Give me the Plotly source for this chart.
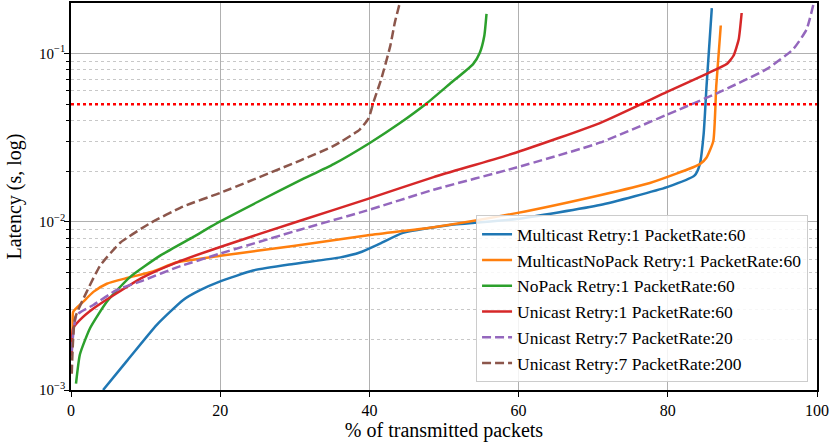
import plotly.graph_objects as go

# % of transmitted packets vs latency (s)
blue_x = [4.3, 7.5, 11.5, 15.0, 17.3, 20, 24.4, 29.8, 36.1, 38.7, 41.4, 44.5, 50.8, 59.7, 70.9, 79.9, 83.6, 84.3, 84.8, 85.2, 85.9]
blue_y = [0.00100, 0.00149, 0.00244, 0.00342, 0.00392, 0.00442, 0.00513, 0.00561, 0.00614, 0.00656, 0.00741, 0.00859, 0.00957, 0.01038, 0.01257, 0.01607, 0.01885, 0.0220, 0.0330, 0.0647, 0.186]

orange_x = [0.1, 0.22, 0.3, 1.65, 3.0, 4.8, 7.5, 11.0, 14.2, 20, 29.8, 39.6, 48.6, 59.7, 70.9, 77.6, 84.3, 85.2, 86.1, 86.5, 87.1]
orange_y = [0.0018, 0.00233, 0.00292, 0.00335, 0.00383, 0.00428, 0.00463, 0.00506, 0.00574, 0.00627, 0.00718, 0.00828, 0.00927, 0.01125, 0.01438, 0.0170, 0.0220, 0.0241, 0.0302, 0.0647, 0.1466]

green_x = [0.67, 1.2, 2.55, 4.8, 7.9, 11.9, 16.4, 20, 25, 30.7, 35.2, 40.1, 44.1, 47.7, 50.8, 53.9, 54.8, 55.4, 55.7]
green_y = [0.00109, 0.00163, 0.00233, 0.00335, 0.00469, 0.00627, 0.00813, 0.01004, 0.0131, 0.0176, 0.0220, 0.0295, 0.0386, 0.0506, 0.0661, 0.0865, 0.101, 0.127, 0.172]

red_x = [0.1, 0.3, 1.2, 3.0, 5.7, 9.7, 14.2, 20, 30.7, 39.6, 48.6, 59.7, 70.9, 79.9, 85.2, 87.9, 88.8, 89.5, 89.9]
red_y = [0.0016, 0.00233, 0.00261, 0.00305, 0.00366, 0.00469, 0.00574, 0.00708, 0.01014, 0.01358, 0.0184, 0.0258, 0.0386, 0.0591, 0.0757, 0.0865, 0.0969, 0.121, 0.174]

purple_x = [0.1, 0.76, 3.0, 6.1, 9.7, 14.2, 20, 30.7, 39.6, 48.6, 59.7, 70.9, 79.9, 86.5, 93.3, 96.8, 98.6, 99.5]
purple_y = [0.0017, 0.00279, 0.0032, 0.00392, 0.00448, 0.00536, 0.00647, 0.00897, 0.01164, 0.0155, 0.0210, 0.0295, 0.0433, 0.0578, 0.081, 0.106, 0.139, 0.194]

brown_x = [0.1, 0.54, 2.1, 3.9, 6.6, 10.6, 15.0, 20, 30.7, 35.2, 38.7, 39.9, 40.5, 41.6, 42.8, 43.4, 44.0]
brown_y = [0.00125, 0.00267, 0.00383, 0.00548, 0.0075, 0.0098, 0.0123, 0.01484, 0.0231, 0.0282, 0.0353, 0.0413, 0.0506, 0.0708, 0.111, 0.152, 0.194]

threshold = 0.05

series = [
	("Multicast Retry:1 PacketRate:60", blue_x, blue_y, "#1f77b4", "solid"),
	("MulticastNoPack Retry:1 PacketRate:60", orange_x, orange_y, "#ff7f0e", "solid"),
	("NoPack Retry:1 PacketRate:60", green_x, green_y, "#2ca02c", "solid"),
	("Unicast Retry:1 PacketRate:60", red_x, red_y, "#d62728", "solid"),
	("Unicast Retry:7 PacketRate:20", purple_x, purple_y, "#9467bd", "9px,4px"),
	("Unicast Retry:7 PacketRate:200", brown_x, brown_y, "#8c564b", "9px,4px"),
]

y_major = [0.001, 0.01, 0.1]
y_major_text = ["10<sup>−3</sup>", "10<sup>−2</sup>", "10<sup>−1</sup>"]
y_minor = [m * d for d in (0.001, 0.01, 0.1) for m in range(2, 10) if m * d < 0.199]

fig = go.Figure()
for name, xs, ys, color, dash in series:
	fig.add_trace(go.Scatter(x=xs, y=ys, mode="lines", name=name,
		line=dict(color=color, width=2.5, dash=dash, shape="spline", smoothing=0.5)))

# latency threshold
fig.add_hline(y=threshold, line=dict(color="red", width=2.5, dash="dot"), layer="above")

font = "Liberation Serif"
fig.update_layout(
	width=831, height=442,
	margin=dict(l=71, r=14, t=1, b=49),
	plot_bgcolor="white", paper_bgcolor="white",
	font=dict(family=font, size=17, color="black"),
	showlegend=True,
	legend=dict(x=0.988, y=0.02, xanchor="right", yanchor="bottom",
		bgcolor="rgba(255,255,255,0.85)", bordercolor="#cccccc", borderwidth=1,
		font=dict(family=font, size=17.5), tracegroupgap=0, itemwidth=30),
)
fig.update_xaxes(range=[0, 100], tickvals=[0, 20, 40, 60, 80, 100],
	tickfont=dict(size=16),
	title=dict(text="% of transmitted packets", standoff=8),
	showline=True, linecolor="black", linewidth=1.5, mirror=True,
	ticks="outside", ticklen=5, tickcolor="black",
	showgrid=True, gridcolor="#b0b0b0", gridwidth=1, zeroline=False)
fig.update_yaxes(type="log", range=[-3, -0.700],
	tickvals=y_major, ticktext=y_major_text,
	tickfont=dict(size=15), ticklabelstandoff=-4,
	title=dict(text="Latency (s, log)", standoff=12),
	showline=True, linecolor="black", linewidth=1.5, mirror=True,
	ticks="outside", ticklen=5, tickcolor="black",
	showgrid=True, gridcolor="#b0b0b0", gridwidth=1, zeroline=False,
	minor=dict(tickvals=y_minor, ticks="outside", ticklen=3, tickcolor="black",
		showgrid=True, gridcolor="#c8c8c8", gridwidth=1, griddash="dot"))

fig.write_html("out.html", config={"displayModeBar": False},
	post_script="document.body.style.margin='0';")
